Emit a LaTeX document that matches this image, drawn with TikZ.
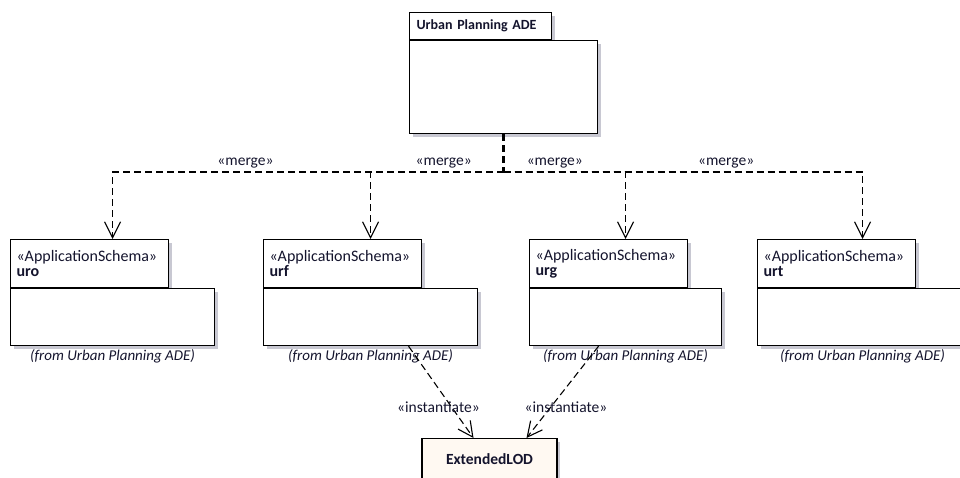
\documentclass[tikz,border=0pt]{standalone}
\usepackage{fontspec}
\setmainfont{Carlito}
\usetikzlibrary{positioning,arrows.meta,shadows}

\definecolor{labeltext}{RGB}{20,20,45}
\definecolor{classfill}{RGB}{255,249,242}
\definecolor{shadowgray}{RGB}{200,200,210}

\tikzset{
	pkgshadow/.style={drop shadow={shadow xshift=3pt, shadow yshift=-3pt, fill=shadowgray, opacity=1}},
	pkgtab/.style={draw=black, fill=white, pkgshadow, anchor=north west, minimum width=158pt, minimum height=48pt, text width=146pt, inner xsep=6pt, align=left, font=\fontsize{16}{15}\selectfont},
	pkgbody/.style={draw=black, fill=white, pkgshadow, anchor=north west, minimum height=57pt},
	fromlabel/.style={font=\fontsize{15}{15}\selectfont\itshape, inner sep=2pt},
	classbox/.style={draw=black, fill=classfill, pkgshadow},
	busline/.style={line width=2.6pt, dash pattern=on 7pt off 4pt},
	merge/.style={dash pattern=on 7pt off 4pt, -{Straight Barb[length=16pt,width=16pt]}},
	mergelabel/.style={above, inner sep=3pt},
	realize/.style={dash pattern=on 7pt off 4pt, -{Straight Barb[length=15pt,width=15pt]}}
}

\begin{document}
\begin{tikzpicture}[x=1pt, y=-1pt, line width=1.1pt, font=\fontsize{15.5}{15}\selectfont, text=labeltext]

\useasboundingbox (0,0) rectangle (960,477);
\clip (0,0) rectangle (960,477);

% top package
\node[pkgtab, minimum width=142pt, minimum height=27pt, text width=128pt, inner xsep=7pt, font=\fontsize{14}{15}\selectfont\bfseries] (adetab) at (409,12) {Urban Planning ADE};
\node[pkgbody, minimum width=188pt, minimum height=93pt] (adebody) at (adetab.south west) {};

% application schemas
\foreach \name/\x/\w in {uro/10/204, urf/263/214, urg/529/192, urt/757/210}{
	\node[pkgtab] (\name tab) at (\x,239) {«ApplicationSchema»\\\textbf{\name}};
	\node[pkgbody, minimum width=\w pt] (\name body) at (\name tab.south west) {};
	\node[fromlabel, below=1pt of \name body] (\name from) {(from Urban Planning ADE)};
}

% class
\node[classbox, anchor=north, minimum width=135pt, minimum height=42pt] (lod) at (489.5,438) {\textbf{ExtendedLOD}};

% merges
\coordinate (bus) at (adebody.south |- 0,172);
\draw[busline] (adebody.south) -- (bus);
\draw[merge] (bus) -| node[mergelabel, pos=0.33] (m1) {«merge»} (urobody.center |- urotab.north);
\draw[merge] (bus) -| node[mergelabel, pos=0.225] (m2) {«merge»} (urfbody.center |- urftab.north);
\draw[merge] (bus) -| node[mergelabel, pos=0.21] (m3) {«merge»} (urgbody.center |- urgtab.north);
\draw[merge] (bus) -| node[mergelabel, pos=0.31] (m4) {«merge»} (urtbody.center |- urttab.north);

% instantiate
\draw[realize] ([xshift=38pt]urfbody.south) -- node[pos=0.66, xshift=-13pt] (i1) {«instantiate»} ([xshift=-16pt]lod.north);
\draw[realize] ([xshift=-27pt]urgbody.south) -- node[pos=0.66, xshift=15pt] (i2) {«instantiate»} ([xshift=37pt]lod.north);

\end{tikzpicture}
\end{document}
